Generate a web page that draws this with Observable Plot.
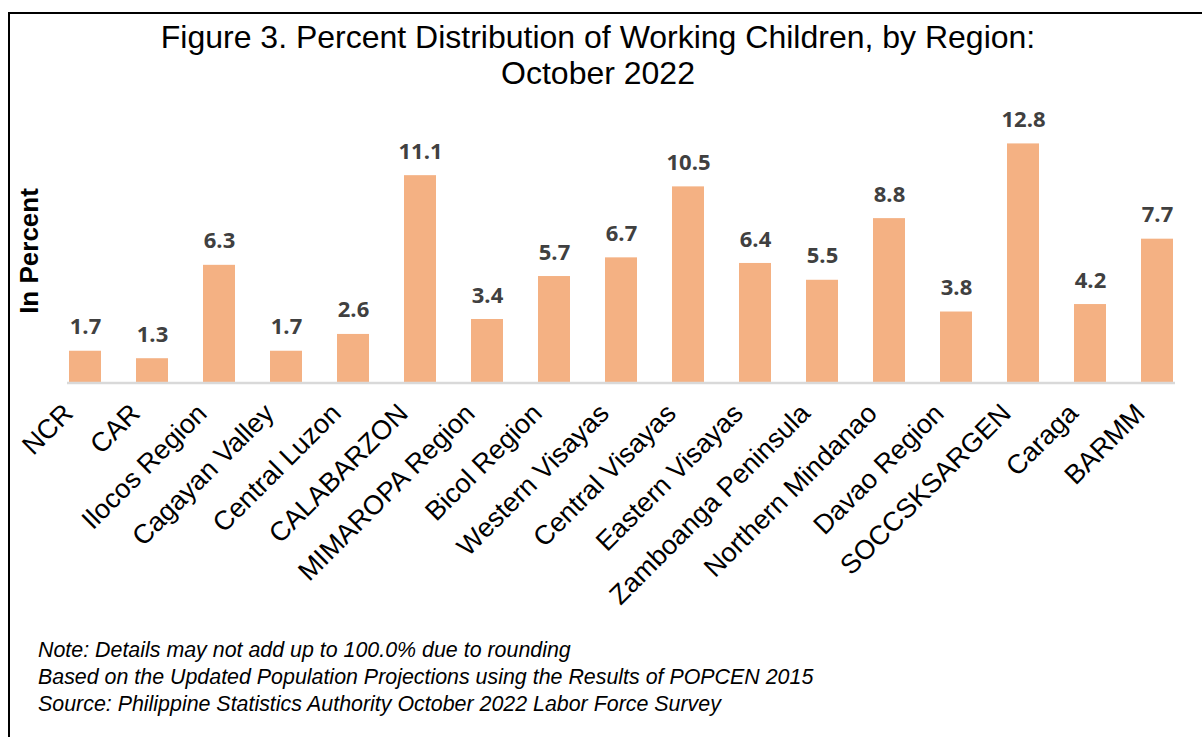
<!DOCTYPE html>
<html>
<head>
<meta charset="utf-8">
<script src="https://cdn.jsdelivr.net/npm/d3@7"></script>
<script src="https://cdn.jsdelivr.net/npm/@observablehq/plot@0.6"></script>
<style>
  html, body { margin: 0; padding: 0; background: white; }
  #wrap { position: relative; width: 1202px; height: 737px; overflow: hidden; background: white; }
  #frame { position: absolute; left: 8px; top: 12px; width: 1300px; height: 800px;
           border-top: 2px solid #000; border-left: 2px solid #000; box-sizing: border-box; }
  #chart { position: absolute; left: 0; top: 0; }
  #title { position: absolute; left: 0; top: 19px; width: 1196px; text-align: center;
           font-family: "Liberation Sans", Arial, sans-serif; font-size: 32px; line-height: 36px; color: #000; }
  #ylabel { position: absolute; left: 29px; top: 250.5px; transform: translate(-50%, -50%) rotate(-90deg);
            font-family: "Liberation Sans", Arial, sans-serif; font-weight: bold; font-size: 26px;
            line-height: 30px; white-space: nowrap; color: #000; }
  #caption { position: absolute; left: 38px; top: 637px; font-family: "Liberation Sans", Arial, sans-serif;
             font-style: italic; font-size: 21.4px; line-height: 26.8px; color: #000; white-space: nowrap; }
</style>
</head>
<body>
<div id="wrap">
  <div id="frame"></div>
  <div id="chart"></div>
  <div id="title">Figure 3. Percent Distribution of Working Children, by Region:<br>October 2022</div>
  <div id="ylabel">In Percent</div>
  <div id="caption">Note: Details may not add up to 100.0% due to rounding<br>Based on the Updated Population Projections using the Results of POPCEN 2015<br>Source: Philippine Statistics Authority October 2022 Labor Force Survey</div>
</div>
<script>
const regions = ["NCR", "CAR", "Ilocos Region", "Cagayan Valley", "Central Luzon", "CALABARZON",
  "MIMAROPA Region", "Bicol Region", "Western Visayas", "Central Visayas", "Eastern Visayas",
  "Zamboanga Peninsula", "Northern Mindanao", "Davao Region", "SOCCSKSARGEN", "Caraga", "BARMM"];
const values = [1.7, 1.3, 6.3, 1.7, 2.6, 11.1, 3.4, 5.7, 6.7, 10.5, 6.4, 5.5, 8.8, 3.8, 12.8, 4.2, 7.7];

const data = regions.map((r, i) => ({region: r, value: values[i]}));

const chart = Plot.plot({
  width: 1202,
  height: 620,
  marginLeft: 67,
  marginRight: 27,
  marginTop: 121,
  marginBottom: 237.5,
  style: {background: "transparent", overflow: "visible"},
  x: {type: "band", domain: regions, paddingInner: 0.524, paddingOuter: 0, axis: null},
  y: {domain: [0, 14], axis: null},
  marks: [
    Plot.barY(data, {x: "region", y: "value", fill: "#f4b183"}),
    Plot.ruleY([0], {stroke: "#d9d9d9", strokeWidth: 2.5}),
    Plot.text(data, {x: "region", y: "value", text: d => d.value.toFixed(1), dy: -24,
      fontSize: 22, fontWeight: "bold", fontFamily: "Open Sans, sans-serif", fill: "#404040"}),
    Plot.text(data, {x: "region", frameAnchor: "bottom", text: "region", rotate: -45,
      textAnchor: "end", dx: -11, dy: 32, fontSize: 27,
      fontFamily: "Liberation Sans, Arial, sans-serif", fill: "#000"})
  ]
});
document.getElementById("chart").appendChild(chart);
</script>
</body>
</html>
